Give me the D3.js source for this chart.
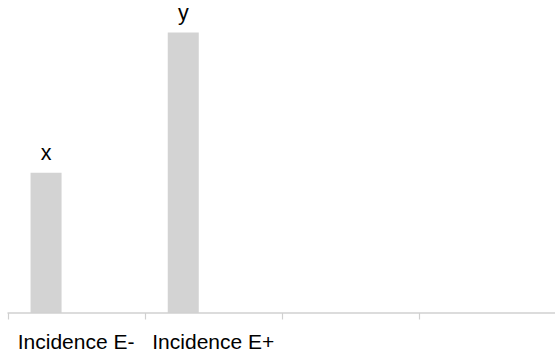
<!DOCTYPE html>
<html>
<head>
<meta charset="utf-8">
<script src="https://cdn.jsdelivr.net/npm/d3@7"></script>
<style>
  html, body { margin: 0; padding: 0; background: #fff; }
  svg { display: block; }
  text { font-family: "Liberation Sans", Arial, sans-serif; }
</style>
</head>
<body>
<svg id="chart" width="555" height="354"></svg>
<script>
// Data
const categories = ["Incidence E-", "Incidence E+", "", ""];
const values = [1, 2, null, null];
const dataLabels = ["x", "y", "", ""];

const svg = d3.select("#chart");
const W = 555, H = 354;
const axisY = 313;

const x = d3.scaleBand()
  .domain(d3.range(categories.length))
  .range([7.5, 556.3])
  .paddingInner(0).paddingOuter(0);

const y = d3.scaleLinear().domain([0, 2]).range([axisY, 32.5]);

const barOffset = 0.168, barWidth = 0.226;
const bw = x.bandwidth();

const rows = categories.map((c, i) => ({ i, c, v: values[i], l: dataLabels[i] }))
  .filter(d => d.v != null);

svg.append("g").selectAll("rect").data(rows).join("rect")
  .attr("x", d => x(d.i) + bw * barOffset)
  .attr("width", bw * barWidth)
  .attr("y", d => y(d.v))
  .attr("height", d => y(0) - y(d.v))
  .attr("fill", "#d3d3d3");

svg.append("g").selectAll("text").data(rows).join("text")
  .attr("x", d => x(d.i) + bw * (barOffset + barWidth / 2))
  .attr("y", d => y(d.v) - 13)
  .attr("text-anchor", "middle")
  .attr("font-size", "21.5px")
  .attr("fill", "#000")
  .text(d => d.l);

// Axis line and tick marks at category boundaries
const axisColor = "#d0d0d0";
svg.append("line")
  .attr("x1", x.range()[0]).attr("x2", W)
  .attr("y1", axisY).attr("y2", axisY)
  .attr("stroke", axisColor).attr("stroke-width", 1.5);

const bounds = d3.range(categories.length + 1).map(i => x.range()[0] + i * x.step());
svg.append("g").selectAll("line").data(bounds).join("line")
  .attr("x1", d => Math.round(d) + 0.5).attr("x2", d => Math.round(d) + 0.5)
  .attr("y1", axisY).attr("y2", axisY + 6.5)
  .attr("stroke", axisColor).attr("stroke-width", 1.2);

// Category labels
svg.append("g").selectAll("text").data(categories).join("text")
  .attr("x", (d, i) => x(i) + bw / 2)
  .attr("y", 349)
  .attr("text-anchor", "middle")
  .attr("font-size", "21px")
  .attr("fill", "#000")
  .text(d => d);
</script>
</body>
</html>
